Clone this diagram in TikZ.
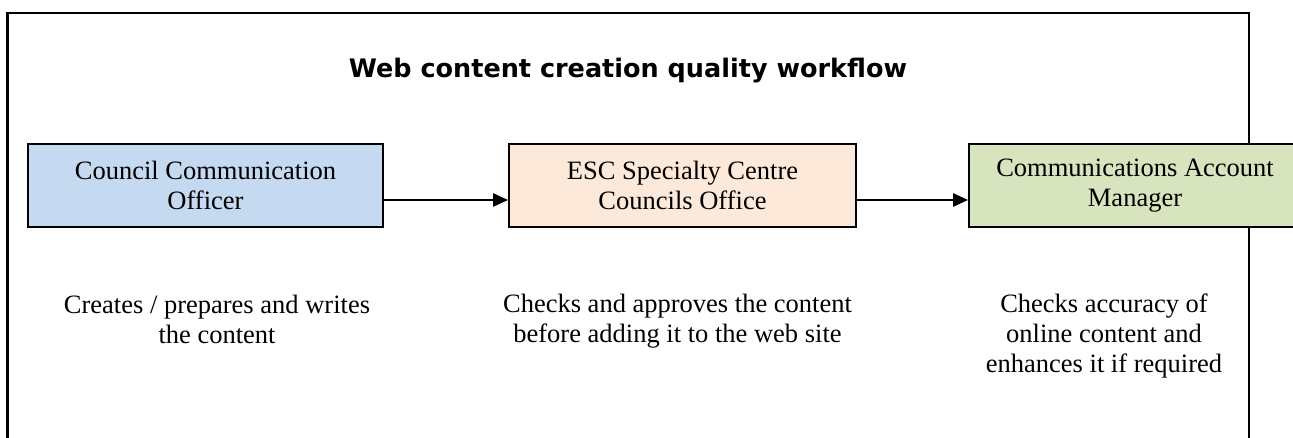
\documentclass[tikz,border=0pt]{standalone}
\usepackage{fontspec}
\setmainfont{Liberation Serif}
\newfontfamily\titlefont{DejaVu Sans}
\usetikzlibrary{arrows.meta}

\begin{document}
\begin{tikzpicture}[x=1pt,y=1pt,
  rolebox/.style={draw=black,line width=1.8pt,minimum height=83pt,inner sep=0pt,
    align=center,font=\fontsize{26.5}{29.5}\selectfont},
  roletext/.style={align=center,inner sep=0pt,font=\fontsize{26.5}{30}\selectfont},
  flow/.style={draw=black,line width=2.5pt,-{Triangle[length=15pt,width=13pt]}}]
\definecolor{fillColor}{RGB}{255,255,255}
\definecolor{blueFill}{RGB}{197,217,241}
\definecolor{peachFill}{RGB}{253,233,217}
\definecolor{greenFill}{RGB}{215,228,189}
\path[use as bounding box,fill=fillColor] (0,0) rectangle (1293,438);

\path[draw=black,line width=2.8pt] (1249,-10) --
	(1249,425) --
	(7.5,425) --
	(7.5,-10);

\node[font=\titlefont\bfseries\fontsize{25.5}{30}\selectfont,inner sep=0pt,anchor=base] (title) at (628,360) {Web content creation quality workflow};

\node[rolebox,fill=blueFill,minimum width=355pt] (officer) at (205.5,252.5) {Council Communication\\Officer};
\node[rolebox,fill=peachFill,minimum width=347pt] (esc) at (682.5,252.5) {ESC Specialty Centre\\Councils Office};
\node[rolebox,fill=greenFill,minimum width=332pt] (manager) at (1135,252.5) {Communications Account\\Manager};

\draw[flow] ([yshift=-14.5pt]officer.east) -- ([yshift=-14.5pt]esc.west);
\draw[flow] ([yshift=-14.5pt]esc.east) -- ([yshift=-14.5pt]manager.west);

\node[roletext] (officertask) at (217,119) {Creates / prepares and writes\\the content};
\node[roletext] (esctask) at (677.5,116.5) {Checks and approves the content\\before adding it to the web site};
\node[roletext] (managertask) at (1104,102) {Checks accuracy of\\online content and\\enhances it if required};
\end{tikzpicture}
\end{document}
